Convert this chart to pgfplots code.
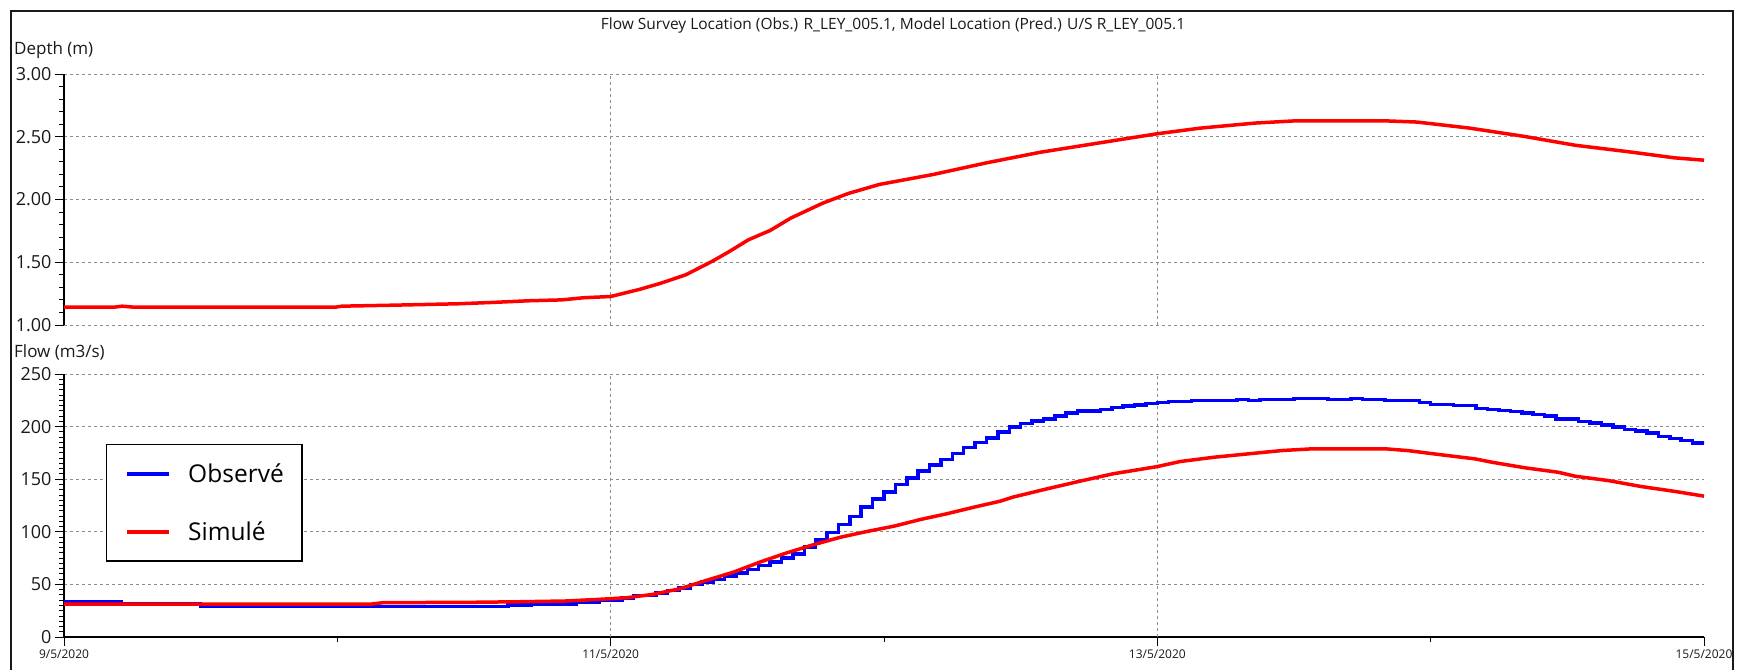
\documentclass[border=0pt]{standalone}
\usepackage{fontspec}
\setmainfont{Open Sans}
\usepackage{pgfplots}
\usepackage{pgfplotstable}
\pgfplotsset{compat=1.18}

% Depth (m) simulated, x in hours from 9/5/2020 00:00
\pgfplotstableread{
h d
0 1.143
4.5 1.143
5.1 1.150
6 1.143
23.9 1.143
24.4 1.150
29 1.158
34.6 1.169
37.7 1.180
40.8 1.193
43.7 1.200
45.6 1.217
48 1.227
50.5 1.283
52.3 1.330
54.6 1.400
56.9 1.507
58.3 1.579
60.1 1.679
62 1.753
63.8 1.851
66.6 1.970
68.9 2.049
71.6 2.120
76.3 2.199
81 2.292
85.7 2.376
90.5 2.445
96 2.524
99.8 2.569
104.6 2.609
108.2 2.627
115.9 2.627
118.8 2.617
123.4 2.569
128.2 2.503
132.7 2.432
137.5 2.379
141.4 2.332
144 2.313
}\depthsim

% Flow simulated
\pgfplotstableread{
h q
0 31.3
27 31.3
28 32.6
36 33.0
40 33.5
44 34.2
47 35.8
49.4 37.3
51.7 40.5
54.1 45.9
56.4 53.8
58.8 61.7
61.1 71.2
63.5 80.1
65.8 87.7
68.2 94.9
70.5 100.3
72.9 105.4
75.2 111.7
77.5 117.1
79.9 123.4
82.2 129.1
83.3 132.9
86.3 140.8
89.2 148.1
92.1 155.1
96 162.0
98 166.8
101 170.9
103.9 174.0
106.9 177.2
109.5 178.8
116.1 178.8
118 177.2
121 173.1
123.9 169.3
125.4 166.1
128.3 160.8
131.2 156.6
132.7 152.8
135.6 148.7
138.5 143.0
141.5 138.3
144 133.9
}\flowsim

% Flow observed (hourly, stepped)
\pgfplotstableread{
h q
0 33.2
5 31.3
12 29.4
21 28.8
39 30.4
41 31.3
45 32.9
47 35.4
49 37.3
50 39.6
52 42.0
53 44.3
54 46.5
55 49.7
56 52.2
57 54.7
58 57.9
59 61.0
60 64.2
61 68.0
62 71.2
63 75.3
64 79.1
65 85.4
66 92.0
67 99.2
68 106.8
69 114.5
70 123.7
71 131.4
72 137.8
73 144.8
74 151.0
75 157.6
76 163.3
77 168.8
78 174.4
79 180.0
80 185.0
81 189.2
82 194.8
83 199.5
84 202.8
85 205.2
86 207.3
87 210.1
88 212.7
89 214.7
91 216.2
92 218.3
93 219.4
94 220.6
95 222.0
96 223.0
97 224.0
99 224.8
103 225.9
104 224.8
105 225.8
108 226.9
111 225.9
113 226.9
114 225.9
116 224.8
119 223.1
120 221.2
122 219.9
124 217.4
125 216.1
126 215.2
127 214.2
128 213.0
129 211.4
130 210.1
131 207.3
133 204.7
134 203.5
135 201.6
136 199.4
137 197.2
138 195.6
139 193.7
140 190.8
141 188.9
142 186.7
143 184.5
144 183.0
}\flowobs

\definecolor{gridgray}{RGB}{140,140,140}
\definecolor{txt}{RGB}{25,25,25}

\pgfplotsset{
  panel/.style={
    scale only axis, width=1640pt, xmin=0, xmax=144,
    axis x line*=bottom, axis y line*=left,
    tick align=outside, major tick length=9pt, minor tick length=5pt,
    every tick/.style={black, line width=0.9pt},
    grid style={gridgray, dash pattern=on 3pt off 3pt, line width=0.9pt},
    ymajorgrids,
    y axis line style={line width=1.3pt, black},
    /pgf/number format/assume math mode=true,
    yticklabel style={font=\fontsize{18}{20}\selectfont, text=txt},
    xticklabel style={font=\fontsize{12}{14}\selectfont, text=txt},
  },
}

\begin{document}
\begin{tikzpicture}[x=1pt,y=1pt]
\path (0,0) rectangle (1738,670);
\draw[line width=1.4pt, black!90] (11,0) -- (11,659) -- (1733,659) -- (1733,0);

\node[font=\fontsize{15.5}{18}\selectfont, text=txt] at (893,645) {Flow Survey Location (Obs.) R\_LEY\_005.1, Model Location (Pred.) U/S R\_LEY\_005.1};
\node[font=\fontsize{17}{20}\selectfont, text=txt, anchor=west, inner sep=0pt] at (14,620) {Depth (m)};
\node[font=\fontsize{17}{20}\selectfont, text=txt, anchor=west, inner sep=0pt] at (14,318) {Flow (m3/s)};

\begin{axis}[panel, at={(64pt,345pt)}, anchor=south west, height=251pt,
  ymin=1, ymax=3, ytick={1,1.5,2,2.5,3}, minor y tick num=4,
  yticklabel style={/pgf/number format/fixed, /pgf/number format/fixed zerofill, /pgf/number format/precision=2},
  xtick={48,96}, xticklabels={}, xmajorgrids,
  x axis line style={draw=none}, xtick style={draw=none}]
\addplot[red, line width=3.5pt] table[x=h, y=d] {\depthsim};
\end{axis}

\begin{axis}[panel, at={(64pt,33pt)}, anchor=south west, height=263pt,
  ymin=0, ymax=250, ytick={0,50,100,150,200,250}, minor y tick num=9,
  xtick={0,48,96,144}, xticklabels={9/5/2020,11/5/2020,13/5/2020,15/5/2020},
  minor xtick={24,72,120},
  extra x ticks={48,96}, extra x tick labels={}, extra x tick style={grid=major},
  x axis line style={line width=1.3pt, black},
  legend style={at={(0.0256,0.734)}, anchor=north west, draw=black, line width=1.5pt,
    fill=white, font=\fontsize{24.5}{28}\selectfont, inner xsep=18pt, inner ysep=19pt,
    row sep=38pt, column sep=17pt, nodes={inner sep=0pt}},
  legend cell align=left,
  legend image code/.code={\draw[#1, line width=4.5pt] (0pt,0pt) -- (42pt,0pt);}]
\addplot[blue, line width=3.5pt, const plot] table[x=h, y=q] {\flowobs};
\addlegendentry{Observé}
\addplot[red, line width=3.5pt] table[x=h, y=q] {\flowsim};
\addlegendentry{Simulé}
\end{axis}
\end{tikzpicture}
\end{document}
